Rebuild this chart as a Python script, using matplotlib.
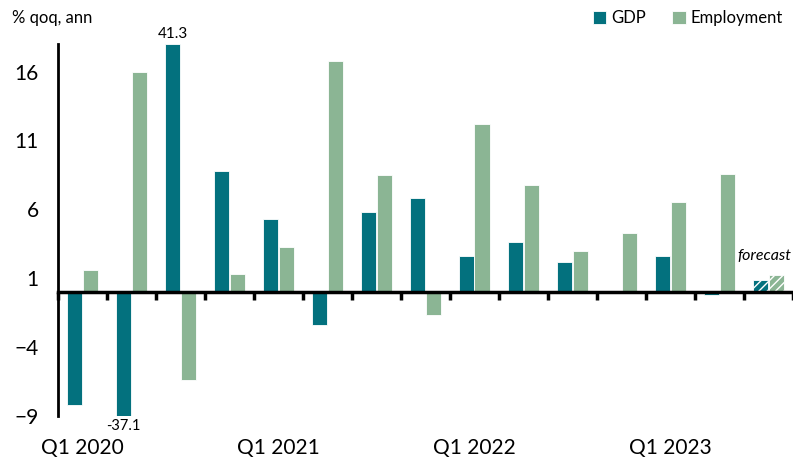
import matplotlib
matplotlib.use("Agg")
import matplotlib.pyplot as plt
import numpy as np

quarters = ["Q1 2020", "Q2 2020", "Q3 2020", "Q4 2020",
            "Q1 2021", "Q2 2021", "Q3 2021", "Q4 2021",
            "Q1 2022", "Q2 2022", "Q3 2022", "Q4 2022",
            "Q1 2023", "Q2 2023", "Q3 2023"]
gdp = [-8.2, -37.1, 41.3, 8.75, 5.3, -2.4, 5.8, 6.8, 2.6, 3.6, 2.2, -0.1, 2.6, -0.25, 0.9]
emp = [1.6, 16.0, -6.4, 1.3, 3.3, 16.8, 8.5, -1.65, 12.2, 7.8, 3.0, 4.3, 6.5, 8.6, 1.25]
is_forecast = [False] * 14 + [True]
label_ticks = [0, 4, 8, 12]
ylim = (-9, 18)
yticks = [-9, -4, 1, 6, 11, 16]

GDP_C = "#03717E"
EMP_C = "#8BB594"
FONT = ["Lato", "DejaVu Sans"]
plt.rcParams["font.family"] = FONT

fig = plt.figure(figsize=(7.93, 4.59), dpi=100)
ax = fig.add_axes([58 / 793, 43 / 459, 1 - 58 / 793, (416 - 44) / 459])

x = np.arange(len(quarters))
w = 0.31
gdp_clip = np.clip(gdp, ylim[0], ylim[1])
b1 = ax.bar(x - 0.165, gdp_clip, width=w, color=GDP_C, edgecolor="white", linewidth=0.6, label="GDP", zorder=2)
b2 = ax.bar(x + 0.155, emp, width=w, color=EMP_C, edgecolor="white", linewidth=0.6, label="Employment", zorder=2)
for i, f in enumerate(is_forecast):
    if f:
        for b in (b1[i], b2[i]):
            b.set_hatch("////")
            b.set_edgecolor("white")

# data labels for clipped bars
for i, v in enumerate(gdp):
    if v > ylim[1]:
        ax.text(x[i] - 0.165, ylim[1] + 0.25, f"{v:.1f}", ha="center", va="bottom", fontsize=11, clip_on=False)
    elif v < ylim[0]:
        ax.text(x[i] - 0.165, ylim[0] - 0.25, f"{v:.1f}", ha="center", va="top", fontsize=10.5, clip_on=False)

# forecast label
fi = is_forecast.index(True)
ax.text(x[fi] + 0.47, emp[fi] + 1.35, "forecast", ha="right", va="center", fontsize=11.5, style="italic")

ax.set_xlim(-0.5, len(quarters) - 0.5)
ax.set_ylim(*ylim)
ax.set_yticks(yticks)
ax.tick_params(axis="y", length=0, labelsize=15, pad=14)

for s in ["top", "right"]:
    ax.spines[s].set_visible(False)
ax.spines["left"].set_linewidth(2)
ax.spines["bottom"].set_position(("data", 0))
ax.spines["bottom"].set_linewidth(2.5)
ax.set_xticks(np.arange(len(quarters) + 1) - 0.5)
ax.set_xticklabels([])
ax.tick_params(axis="x", direction="out", length=6, width=2.5)

sec = ax.secondary_xaxis("bottom")
sec.set_xticks(label_ticks)
sec.set_xticklabels([quarters[i] for i in label_ticks])
sec.tick_params(length=0, labelsize=15, pad=16)
sec.spines["bottom"].set_visible(False)

fig.text(12 / 793, 1 - 18 / 459, "% qoq, ann", ha="left", va="center", fontsize=12)

ax.legend(loc="upper right", bbox_to_anchor=(1.0, 1 + 44 / 372), ncol=2, frameon=False,
          fontsize=12, handlelength=0.8, handleheight=0.8, handletextpad=0.3, columnspacing=1.6,
          borderaxespad=0.2)

fig.savefig("out.png", dpi=100)
